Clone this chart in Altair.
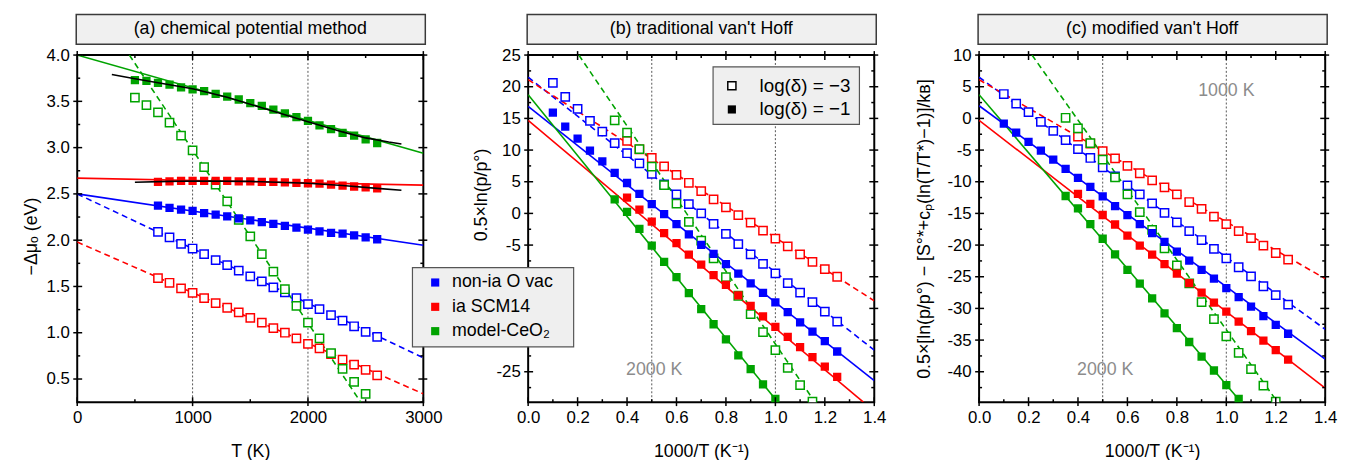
import altair as alt
import pandas as pd

FONT = "Liberation Sans"
BLUE, RED, GREEN = "#0000FF", "#FF0000", "#00A300"
W, H = 350, 351

# ---------------- panel (a): chemical potential method ----------------
a_T_green_filled = list(range(500, 2700, 100))
a_green_filled = [3.73, 3.72, 3.70, 3.68, 3.65, 3.63, 3.61, 3.58, 3.55, 3.52, 3.48,
                  3.45, 3.41, 3.37, 3.33, 3.29, 3.24, 3.20, 3.16, 3.13, 3.09, 3.05]
a_T_green_open = list(range(500, 2600, 100))
a_green_open = [3.54, 3.46, 3.38, 3.27, 3.13, 2.97, 2.79, 2.60, 2.42, 2.22, 2.04,
                1.85, 1.66, 1.47, 1.29, 1.11, 0.94, 0.78, 0.61, 0.47, 0.34]
a_T = list(range(700, 2700, 100))
a_blue_filled = [2.374, 2.35, 2.33, 2.317, 2.293, 2.275, 2.256, 2.235, 2.215, 2.195,
                 2.175, 2.155, 2.135, 2.114, 2.096, 2.078, 2.07, 2.053, 2.03, 2.01]
a_blue_open = [2.09, 2.03, 1.96, 1.91, 1.85, 1.785, 1.73, 1.67, 1.61, 1.555,
               1.49, 1.435, 1.375, 1.31, 1.255, 1.19, 1.13, 1.07, 1.01, 0.956]
a_red_filled = [2.63, 2.635, 2.64, 2.64, 2.64, 2.64, 2.64, 2.635, 2.635, 2.63,
                2.63, 2.625, 2.62, 2.615, 2.61, 2.60, 2.59, 2.58, 2.57, 2.56]
a_red_open = [1.59, 1.54, 1.48, 1.43, 1.375, 1.32, 1.27, 1.22, 1.16, 1.11,
              1.05, 1.00, 0.94, 0.88, 0.83, 0.77, 0.71, 0.655, 0.60, 0.54]
a_fit_x = [0, 3000]
a_blue_solid = [2.50, 1.945]
a_blue_dashed = [2.50, 0.73]
a_red_solid = [2.67, 2.595]
a_red_dashed = [1.98, 0.34]
a_green_solid = [4.00, 2.94]
a_green_dashed_x = [452, 2457]
a_green_dashed = [4.00, 0.25]
a_black1_T = [300, 500, 700, 1000, 1300, 1600, 2000, 2300, 2500, 2700, 2810]
a_black1 = [3.79, 3.745, 3.70, 3.635, 3.545, 3.43, 3.28, 3.17, 3.105, 3.06, 3.04]
a_black2_T = [500, 800, 1000, 1500, 2000, 2300, 2600, 2810]
a_black2 = [2.625, 2.635, 2.64, 2.635, 2.615, 2.59, 2.56, 2.54]

# ---------------- panel (b): traditional van't Hoff ----------------
bx_blue = [0.10, 0.15, 0.20, 0.25, 0.30, 0.35, 0.40, 0.45, 0.50, 0.55, 0.60, 0.65,
           0.70, 0.75, 0.80, 0.85, 0.90, 0.95, 1.00, 1.05, 1.10, 1.15, 1.20, 1.25]
b_blue_open = [20.6, 18.4, 16.5, 14.6, 12.9, 11.1, 9.5, 7.9, 6.25, 4.6, 3.0, 1.45,
               0.0, -1.67, -3.23, -4.84, -6.47, -7.97, -9.48, -11.0, -12.5, -14.0, -15.5, -17.1]
b_blue_filled = [15.9, 13.7, 11.8, 9.9, 8.2, 6.4, 4.8, 3.1, 1.45, -0.1, -1.7, -3.3,
                 -4.95, -6.4, -8.0, -9.5, -11.05, -12.56, -14.06, -15.6, -17.2, -18.65, -20.16, -21.8]
bx_red = [0.40, 0.45, 0.50, 0.55, 0.60, 0.65, 0.70, 0.75, 0.80, 0.85, 0.90, 0.95,
          1.00, 1.05, 1.10, 1.15, 1.20, 1.25]
b_red_open = [11.45, 10.1, 8.75, 7.44, 6.09, 4.84, 3.53, 2.23, 0.94, -0.27, -1.47, -2.72,
              -3.97, -5.22, -6.47, -7.66, -8.81, -10.0]
b_red_filled = [2.5, 0.6, -1.3, -3.1, -4.7, -6.5, -8.1, -9.75, -11.3, -12.95, -14.6, -16.25,
                -17.9, -19.5, -21.1, -22.7, -24.2, -25.8]
bx_green_open = [0.35, 0.40, 0.45, 0.50, 0.55, 0.60, 0.65, 0.70, 0.75, 0.80, 0.85, 0.90,
                 0.95, 1.00, 1.05, 1.10, 1.15]
b_green_open = [14.7, 12.75, 10.15, 7.4, 4.45, 1.56, -1.35, -4.3, -7.1, -10.06, -13.0, -15.9,
                -18.75, -21.6, -24.4, -27.1, -29.7]
bx_green_filled = [0.35, 0.40, 0.45, 0.50, 0.55, 0.60, 0.65, 0.70, 0.75, 0.80, 0.85, 0.90,
                   0.95, 1.00]
b_green_filled = [2.2, 0.25, -2.45, -5.1, -7.65, -10.06, -12.6, -15.1, -17.5, -19.9, -22.4,
                  -24.6, -27.0, -29.3]
b_blue_solid = ([0.0, 1.4], [16.9, -26.4])
b_blue_dashed = ([0.0, 1.4], [21.5, -21.6])
b_red_solid = ([0.0, 1.356], [14.7, -29.8])
b_red_dashed = ([0.0, 1.4], [21.1, -13.8])
b_green_solid = ([0.0, 1.01], [18.75, -29.8])
b_green_dashed = ([0.205, 1.16], [25.0, -29.8])

# ---------------- panel (c): modified van't Hoff ----------------
c_blue_open = [3.85, 2.34, 0.98, -0.53, -1.98, -3.44, -4.84, -6.25, -7.72, -9.15, -10.58, -12.0,
               -13.4, -14.9, -16.4, -17.8, -19.2, -20.6, -22.1, -23.5, -24.95, -26.5, -27.9, -29.4]
c_blue_filled = [-0.84, -2.25, -3.7, -5.1, -6.5, -7.97, -9.4, -10.8, -12.3, -13.86, -15.27, -16.7,
                 -18.1, -19.5, -21.05, -22.45, -23.9, -25.3, -26.8, -28.2, -29.7, -31.2, -32.6, -34.0]
c_red_open = [-2.87, -4.0, -5.15, -6.3, -7.5, -8.66, -9.8, -10.9, -12.0, -13.2, -14.3, -15.5,
              -16.7, -17.8, -18.9, -20.1, -21.25, -22.3]
c_red_filled = [-11.9, -13.5, -15.25, -16.75, -18.5, -20.1, -21.5, -23.0, -24.5, -26.0, -27.5,
                -29.1, -30.5, -32.1, -33.6, -35.1, -36.6, -38.1]
cx_green_open = [0.35, 0.40, 0.45, 0.50, 0.55, 0.60, 0.65, 0.70, 0.75, 0.80, 0.85, 0.90,
                 0.95, 1.00, 1.05, 1.10, 1.15, 1.20]
c_green_open = [0.1, -1.56, -3.9, -6.5, -9.3, -12.0, -14.8, -17.6, -20.5, -23.2, -26.05, -29.0,
                -31.7, -34.4, -37.0, -39.6, -42.2, -44.7]
cx_green_filled = [0.35, 0.40, 0.45, 0.50, 0.55, 0.60, 0.65, 0.70, 0.75, 0.80, 0.85, 0.90,
                   0.95, 1.00, 1.05]
c_green_filled = [-12.25, -14.2, -16.7, -19.0, -21.45, -23.9, -26.1, -28.4, -30.8, -33.1, -35.3,
                  -37.6, -39.8, -42.1, -44.3]
c_blue_solid = ([0.0, 1.4], [2.0, -38.0])
c_blue_dashed = ([0.0, 1.4], [6.5, -33.3])
c_red_solid = ([0.0, 1.4], [-0.3, -42.6])
c_red_dashed = ([0.0, 1.4], [6.1, -25.3])
c_green_solid = ([0.0, 1.06], [3.75, -44.8])
c_green_dashed = ([0.214, 1.207], [10.0, -44.8])

# ---------------- texts and ticks ----------------
titles = ["(a) chemical potential method", "(b) traditional van't Hoff", "(c) modified van't Hoff"]
legend1_labels = ["non-ia O vac", "ia SCM14", "model-CeO\u2082"]
legend1_colors = [BLUE, RED, GREEN]
legend2_labels = ["log(\u03b4) = \u22123", "log(\u03b4) = \u22121"]
notes_b = (["2000 K"], [0.51], [-24.8])
notes_c = (["2000 K", "1000 K"], [0.51, 1.0], [-39.75, 4.3])

a_xmaj, a_xmin = [0, 1000, 2000, 3000], [500, 1500, 2500]
a_ymaj = [0.5, 1.0, 1.5, 2.0, 2.5, 3.0, 3.5, 4.0]
a_ymin = [0.25, 0.75, 1.25, 1.75, 2.25, 2.75, 3.25, 3.75]
bc_xmaj = [0.0, 0.2, 0.4, 0.6, 0.8, 1.0, 1.2, 1.4]
bc_xmin = [0.1, 0.3, 0.5, 0.7, 0.9, 1.1, 1.3]
b_ymaj = [25, 20, 15, 10, 5, 0, -5, -10, -15, -20, -25]
b_ylabels = [25, 20, 15, 10, 5, 0, -5, -25]   # -10..-20 sit behind the legend box
b_ymin = [22.5, 17.5, 12.5, 7.5, 2.5, -2.5, -7.5, -12.5, -17.5, -22.5, -27.5]
c_ymaj = [10, 5, 0, -5, -10, -15, -20, -25, -30, -35, -40]
c_ymin = [7.5, 2.5, -2.5, -7.5, -12.5, -17.5, -22.5, -27.5, -32.5, -37.5, -42.5]


def pts(xs, ys, color):
    return pd.DataFrame({"x": xs, "y": ys, "c": color})


def lines(specs):
    frames = []
    for i, (xy, color) in enumerate(specs):
        frames.append(pd.DataFrame({"x": xy[0], "y": xy[1], "c": color, "id": i}))
    return pd.concat(frames, ignore_index=True)


def make_panel(title, xdom, ydom, xmaj, xmin, ymaj, ymin, ylabels, xfmt, yaxis_kw, xtitle, ytitle,
               open_df, filled_df, solid_df, dashed_df, vlines, notes=None,
               black_df=None, extra=None):
    xenc = alt.X("x:Q", scale=alt.Scale(domain=xdom, nice=False, zero=False),
                 axis=alt.Axis(values=xmaj, format=xfmt, title=xtitle, labelFlush=False,
                               labelOverlap=False, titlePadding=17))
    yenc = alt.Y("y:Q", scale=alt.Scale(domain=ydom, nice=False, zero=False),
                 axis=alt.Axis(values=ylabels, title=ytitle, labelFlush=False, labelOverlap=False,
                               **yaxis_kw))
    layers = []
    layers.append(alt.Chart(pd.DataFrame({"x": vlines})).mark_rule(
        color="#555555", strokeDash=[2, 2], strokeWidth=1).encode(x=xenc))
    layers.append(alt.Chart(dashed_df).mark_line(strokeDash=[6, 4], strokeWidth=1.6, clip=True).encode(
        x=xenc, y=yenc, color=alt.Color("c:N", scale=None), detail="id:N"))
    layers.append(alt.Chart(solid_df).mark_line(strokeWidth=1.6, clip=True).encode(
        x=xenc, y=yenc, color=alt.Color("c:N", scale=None), detail="id:N"))
    layers.append(alt.Chart(open_df).mark_point(shape="square", size=70, fill="white", fillOpacity=1,
                                                strokeWidth=1.5, opacity=1, clip=True).encode(
        x=xenc, y=yenc, stroke=alt.Stroke("c:N", scale=None)))
    layers.append(alt.Chart(filled_df).mark_square(size=70, opacity=1, clip=True).encode(
        x=xenc, y=yenc, color=alt.Color("c:N", scale=None)))
    if black_df is not None:
        layers.append(alt.Chart(black_df).mark_line(color="black", strokeWidth=1.6, clip=True).encode(
            x=xenc, y=yenc, detail="id:N"))
    if notes is not None:
        layers.append(alt.Chart(pd.DataFrame({"t": notes[0], "x": notes[1], "y": notes[2]})).mark_text(
            color="#8c8c8c", fontSize=18, font=FONT).encode(x=xenc, y=yenc, text="t:N"))
    # ticks: major crossing the frame, minor inward
    xmaj_df = pd.DataFrame({"x": xmaj})
    xmin_df = pd.DataFrame({"x": xmin})
    ymaj_df = pd.DataFrame({"y": ymaj})
    ymin_df = pd.DataFrame({"y": ymin})
    tk = dict(color="black", strokeWidth=1.5)
    layers += [
        alt.Chart(xmaj_df).mark_rule(**tk).encode(x=xenc, y=alt.value(H - 5), y2=alt.value(H + 4)),
        alt.Chart(xmaj_df).mark_rule(**tk).encode(x=xenc, y=alt.value(-4), y2=alt.value(5)),
        alt.Chart(xmin_df).mark_rule(**tk).encode(x=xenc, y=alt.value(H - 3), y2=alt.value(H)),
        alt.Chart(xmin_df).mark_rule(**tk).encode(x=xenc, y=alt.value(0), y2=alt.value(3)),
        alt.Chart(ymaj_df).mark_rule(**tk).encode(y=yenc, x=alt.value(-4), x2=alt.value(5)),
        alt.Chart(ymaj_df).mark_rule(**tk).encode(y=yenc, x=alt.value(W - 5), x2=alt.value(W + 4)),
        alt.Chart(ymin_df).mark_rule(**tk).encode(y=yenc, x=alt.value(0), x2=alt.value(3)),
        alt.Chart(ymin_df).mark_rule(**tk).encode(y=yenc, x=alt.value(W - 3), x2=alt.value(W)),
    ]
    tdf = pd.DataFrame({"t": [title]})
    layers.append(alt.Chart(tdf).mark_rect(fill="#f0f0f0", stroke="#3a3a3a", strokeWidth=1.5).encode(
        x=alt.value(-1), x2=alt.value(W + 2), y=alt.value(-41), y2=alt.value(-11)))
    layers.append(alt.Chart(tdf).mark_text(fontSize=18, font=FONT, color="black").encode(
        x=alt.value(W / 2), y=alt.value(-26), text="t:N"))
    if extra:
        layers += extra
    return alt.layer(*layers).properties(width=W, height=H)


# ----- panel a -----
a_open = pd.concat([pts(a_T, a_blue_open, BLUE), pts(a_T, a_red_open, RED),
                    pts(a_T_green_open, a_green_open, GREEN)], ignore_index=True)
a_filled = pd.concat([pts(a_T, a_blue_filled, BLUE), pts(a_T, a_red_filled, RED),
                      pts(a_T_green_filled, a_green_filled, GREEN)], ignore_index=True)
a_solid = lines([((a_fit_x, a_blue_solid), BLUE), ((a_fit_x, a_red_solid), RED),
                 ((a_fit_x, a_green_solid), GREEN)])
a_dashed = lines([((a_fit_x, a_blue_dashed), BLUE), ((a_fit_x, a_red_dashed), RED),
                  ((a_green_dashed_x, a_green_dashed), GREEN)])
a_black = lines([((a_black1_T, a_black1), "black"), ((a_black2_T, a_black2), "black")])

pa = make_panel(titles[0], [0, 3000], [0.25, 4.0], a_xmaj, a_xmin, a_ymaj, a_ymin, a_ymaj,
                "d", {"format": ".1f", "titlePadding": 6, "titleY": 183},
                "T (K)", "\u2212\u0394\u03bc\u2092 (eV)",
                a_open, a_filled, a_solid, a_dashed, [1000, 2000], black_df=a_black)

# ----- legends (drawn in panel b) -----
leg = [alt.Chart(pd.DataFrame({"t": ["box"]})).mark_rect(
    fill="#efefef", stroke="#555555", strokeWidth=1.2).encode(
    x=alt.value(-117), x2=alt.value(46), y=alt.value(215), y2=alt.value(295))]
for i, (lab, col) in enumerate(zip(legend1_labels, legend1_colors)):
    yy = 230 + 24.6 * i
    d = pd.DataFrame({"t": [lab]})
    leg.append(alt.Chart(d).mark_square(size=68, color=col, opacity=1).encode(
        x=alt.value(-94), y=alt.value(yy)))
    leg.append(alt.Chart(d).mark_text(fontSize=18, font=FONT, align="left", baseline="middle",
                                      color="black").encode(
        x=alt.value(-77), y=alt.value(yy), text="t:N"))
leg.append(alt.Chart(pd.DataFrame({"t": ["box"]})).mark_rect(
    fill="#efefef", stroke="#555555", strokeWidth=1.2).encode(
    x=alt.value(187), x2=alt.value(335), y=alt.value(12), y2=alt.value(70)))
for i, lab in enumerate(legend2_labels):
    yy = 31 + 24 * i
    d = pd.DataFrame({"t": [lab]})
    if i == 0:
        leg.append(alt.Chart(d).mark_point(shape="square", size=68, fill="white", fillOpacity=1,
                                           stroke="black", strokeWidth=1.5, opacity=1).encode(
            x=alt.value(206), y=alt.value(yy)))
    else:
        leg.append(alt.Chart(d).mark_square(size=68, color="black", opacity=1).encode(
            x=alt.value(206), y=alt.value(yy)))
    leg.append(alt.Chart(d).mark_text(fontSize=19, font=FONT, align="left", baseline="middle",
                                      color="black").encode(
        x=alt.value(234), y=alt.value(yy), text="t:N"))

# ----- panel b -----
b_open = pd.concat([pts(bx_blue, b_blue_open, BLUE), pts(bx_red, b_red_open, RED),
                    pts(bx_green_open, b_green_open, GREEN)], ignore_index=True)
b_filled = pd.concat([pts(bx_blue, b_blue_filled, BLUE), pts(bx_red, b_red_filled, RED),
                      pts(bx_green_filled, b_green_filled, GREEN)], ignore_index=True)
b_solid = lines([(b_blue_solid, BLUE), (b_red_solid, RED), (b_green_solid, GREEN)])
b_dashed = lines([(b_blue_dashed, BLUE), (b_red_dashed, RED), (b_green_dashed, GREEN)])

pb = make_panel(titles[1], [0, 1.4], [-29.8, 25], bc_xmaj, bc_xmin, b_ymaj, b_ymin, b_ylabels,
                ".1f", {"labelExpr": "datum.value + ''", "titlePadding": 6, "titleY": 141},
                "1000/T (K\u207b\u00b9)", "0.5\u00d7ln(p/p\u00b0)",
                b_open, b_filled, b_solid, b_dashed, [0.5, 1.0], notes=notes_b, extra=leg)

# ----- panel c -----
c_open = pd.concat([pts(bx_blue, c_blue_open, BLUE), pts(bx_red, c_red_open, RED),
                    pts(cx_green_open, c_green_open, GREEN)], ignore_index=True)
c_filled = pd.concat([pts(bx_blue, c_blue_filled, BLUE), pts(bx_red, c_red_filled, RED),
                      pts(cx_green_filled, c_green_filled, GREEN)], ignore_index=True)
c_solid = lines([(c_blue_solid, BLUE), (c_red_solid, RED), (c_green_solid, GREEN)])
c_dashed = lines([(c_blue_dashed, BLUE), (c_red_dashed, RED), (c_green_dashed, GREEN)])

pc = make_panel(titles[2], [0, 1.4], [-44.8, 10], bc_xmaj, bc_xmin, c_ymaj, c_ymin, c_ymaj,
                ".1f", {"labelExpr": "datum.value + ''", "titlePadding": 14},
                "1000/T (K\u207b\u00b9)",
                "0.5\u00d7[ln(p/p\u00b0) \u2212 [S\u00b0*+c\u209a(ln(T/T*)\u22121)]/k\u0299]",
                c_open, c_filled, c_solid, c_dashed, [0.5, 1.0], notes=notes_c)

chart = alt.hconcat(pa, pb, pc, spacing=106, bounds="flush").properties(
    padding={"left": 13, "top": 2, "right": 5, "bottom": 5}
).configure_view(stroke="black", strokeWidth=2).configure_axis(
    labelFont=FONT, labelFontSize=17, labelColor="black", titleFont=FONT, titleFontSize=18,
    titleFontWeight="normal", titleColor="black", ticks=False, domain=False, grid=False,
    labelPadding=8
)

chart.save("out.html", embed_options={"renderer": "svg", "actions": False})
